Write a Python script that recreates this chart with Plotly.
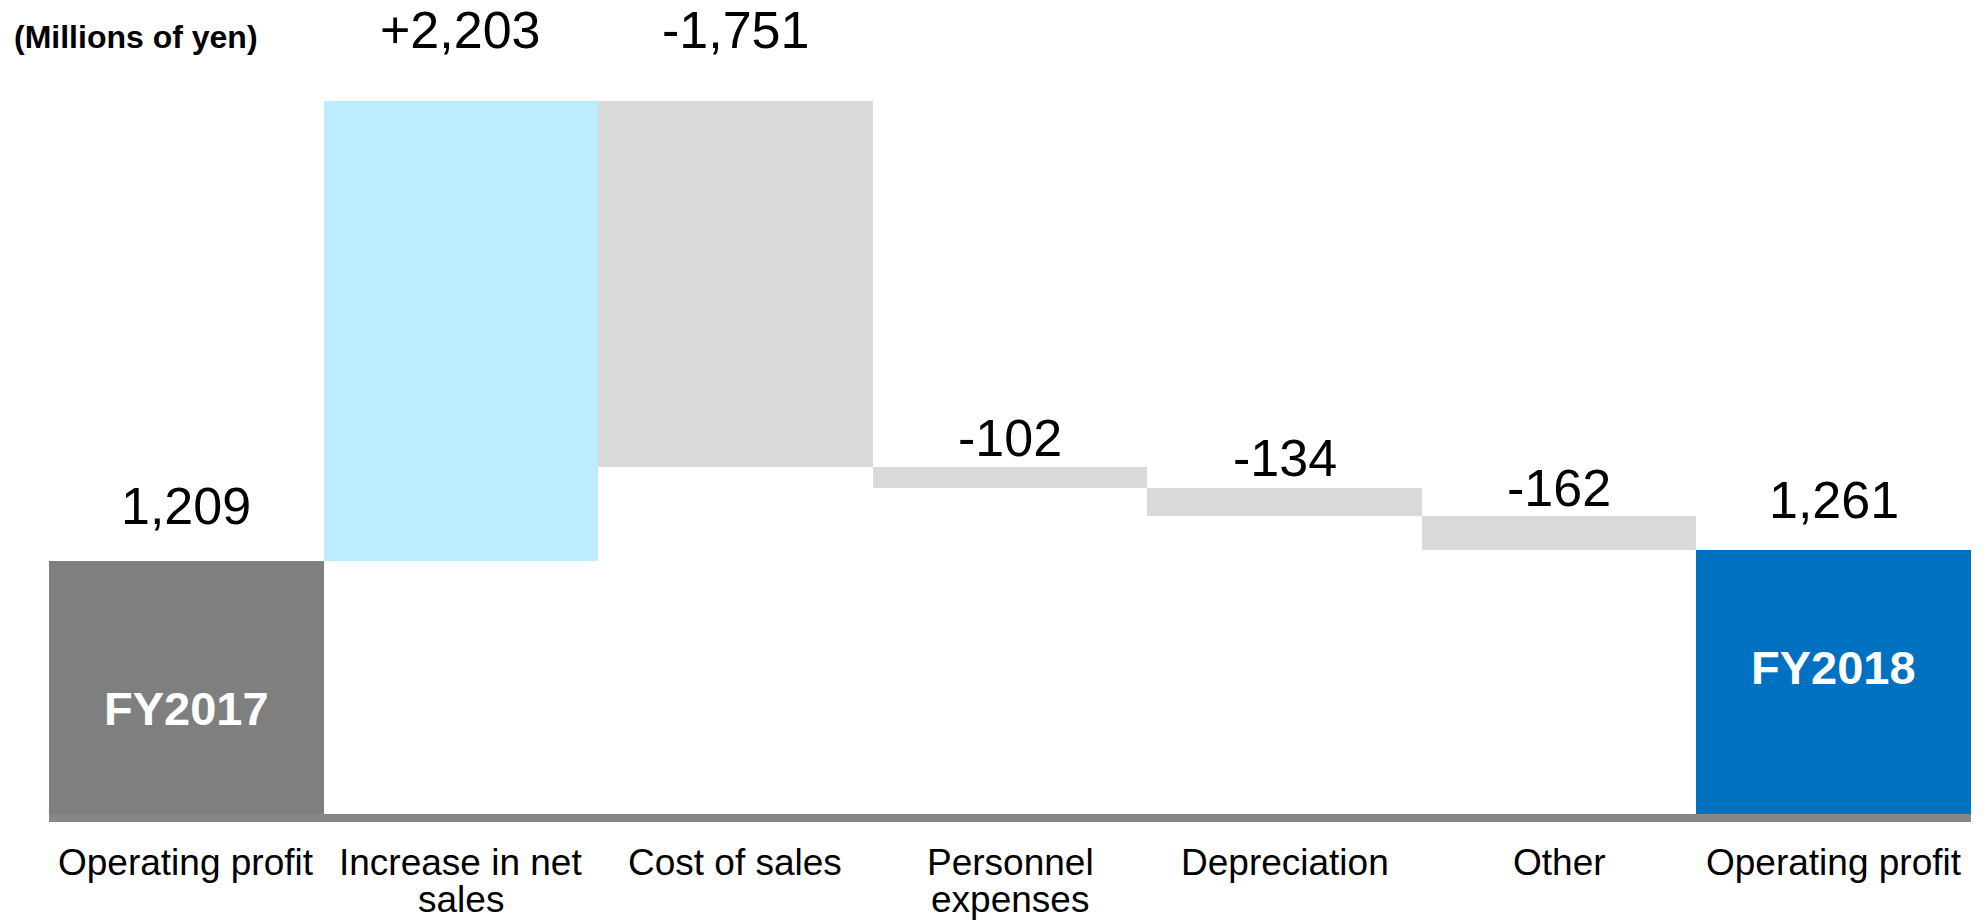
import numpy as np
import plotly.graph_objects as go

# ---------------- data ----------------
categories = ["Operating profit", "Increase in net<br>sales", "Cost of sales",
              "Personnel<br>expenses", "Depreciation", "Other", "Operating profit"]
start_value = 1209
changes = [2203, -1751, -102, -134, -162]
end_value = 1261
period_labels = ["FY2017", "FY2018"]
unit_label = "(Millions of yen)"

# ---------------- derived bar geometry (from data) ----------------
bases, heights, tops = [0], [start_value], [start_value]
level = start_value
for c in changes:
    new = level + c
    bases.append(min(level, new))
    heights.append(abs(c))
    tops.append(max(level, new))
    level = new
bases.append(0)
heights.append(end_value)
tops.append(end_value)

value_text = [f"{start_value:,}"] + [f"{c:+,}" for c in changes] + [f"{end_value:,}"]
x = np.arange(len(categories))

# ---------------- styles ----------------
FONT = "Liberation Sans, Arial, sans-serif"
bar_colors = ["#7F7F7F", "#BDECFD", "#D9D9D9", "#D9D9D9", "#D9D9D9", "#D9D9D9", "#0070C0"]
label_offsets = [55, 71, 71, 29, 30, 28, 50]   # px above bar top
CAT_LINE_SHIFT = [-48, -85]                    # px below axis for label lines

fig = go.Figure()
fig.add_trace(go.Bar(
    x=x, y=heights, base=bases,
    marker=dict(color=bar_colors, line=dict(width=0)),
    width=1.0, hoverinfo="skip", showlegend=False,
))

annotations = []
for xi, top, txt, off in zip(x, tops, value_text, label_offsets):
    annotations.append(dict(
        x=xi, y=top, xref="x", yref="y", text=txt, showarrow=False,
        xanchor="center", yanchor="middle", yshift=off,
        font=dict(family=FONT, size=52, color="#000000"),
    ))

# period labels inside the total bars
for xi, val, txt, shift in [(x[0], start_value, period_labels[0], -21),
                            (x[-1], end_value, period_labels[1], 15)]:
    annotations.append(dict(
        x=xi, y=val / 2, xref="x", yref="y", text=f"<b>{txt}</b>", showarrow=False,
        xanchor="center", yanchor="middle", yshift=shift,
        font=dict(family=FONT, size=47, color="#FFFFFF"),
    ))

# category labels (one annotation per line for tight line spacing)
for xi, cat in zip(x, categories):
    for li, line in enumerate(cat.split("<br>")):
        annotations.append(dict(
            x=xi, y=0, xref="x", yref="paper", text=line, showarrow=False,
            xanchor="center", yanchor="middle", yshift=CAT_LINE_SHIFT[li],
            font=dict(family=FONT, size=37, color="#000000"),
        ))

fig.update_layout(
    width=1984, height=921,
    margin=dict(l=49, r=13, t=0, b=107, autoexpand=False),
    plot_bgcolor="#FFFFFF", paper_bgcolor="#FFFFFF",
    bargap=0,
    title=dict(text=f"<b>{unit_label}</b>", x=14 / 1984, xanchor="left",
               y=1 - 37 / 921, yanchor="middle", xref="container", yref="container",
               font=dict(family=FONT, size=32, color="#000000")),
    annotations=annotations,
    xaxis=dict(
        range=[-0.5, len(categories) - 0.5],
        tickvals=x, showticklabels=False,
        showline=True, linewidth=8, linecolor="#878787",
        showgrid=False, zeroline=False, ticks="", automargin=False,
        fixedrange=True,
    ),
    yaxis=dict(range=[0, 3895], visible=False, showgrid=False, zeroline=False,
               automargin=False, fixedrange=True),
)

fig.write_html("out.html")
